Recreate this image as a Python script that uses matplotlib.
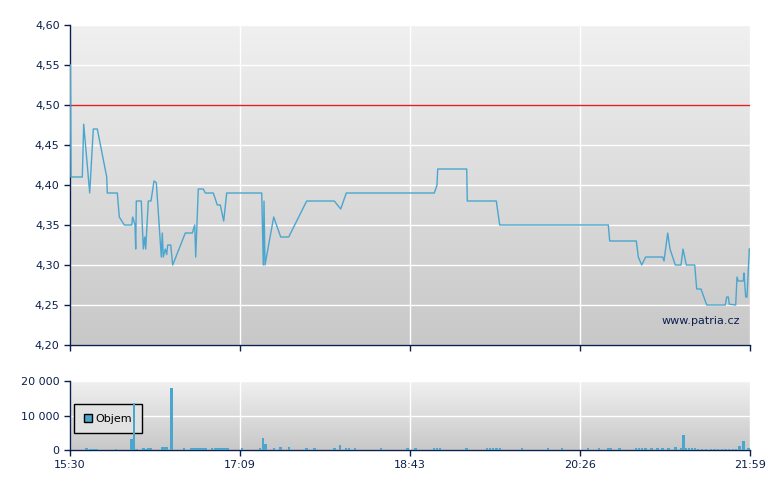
import numpy as np
import matplotlib
matplotlib.use("Agg")
import matplotlib.pyplot as plt

# price line: position along the axis (0..680) and price
price_x = [0.3, 1, 12.3, 13.7, 19.7, 23.3, 27.3, 36.7, 37.3, 47.3, 49.3, 54.3, 61.7, 62.7,
           65, 65.7, 66.3, 68.3, 69.3, 71.3, 73.3, 74.7, 75.7, 78.3, 81, 84, 86.3, 91.3,
           92.3, 93.3, 95.3, 96.7, 97.7, 100.7, 102.7, 115.3, 122.3, 124.7, 125.7, 128.3,
           133.3, 135.3, 143.3, 147.3, 150.3, 153.7, 156.7, 191.7, 193.3, 194, 195, 203.7,
           210.7, 218.7, 236.7, 264.3, 270.7, 276.3, 364.3, 367, 367.7, 396.7, 397.3, 426.3,
           429.7, 538.3, 539.7, 566.3, 568.3, 571.7, 575.7, 592.7, 594, 597.7, 600, 605.3,
           611, 613, 616.3, 624.7, 626.7, 631, 636.7, 655.3, 656.7, 658.3, 659.3, 665.7,
           667, 668.3, 673.3, 674, 675.7, 677, 679.3]
price_y = [4.55, 4.41, 4.41, 4.476, 4.39, 4.47, 4.47, 4.41, 4.39, 4.39, 4.36, 4.35, 4.35, 4.36,
           4.35, 4.32, 4.38, 4.38, 4.38, 4.38, 4.32, 4.335, 4.32, 4.38, 4.38, 4.405, 4.403, 4.31,
           4.34, 4.31, 4.32, 4.313, 4.325, 4.325, 4.30, 4.34, 4.34, 4.35, 4.31, 4.395,
           4.395, 4.39, 4.39, 4.375, 4.375, 4.355, 4.39, 4.39, 4.30, 4.38, 4.30, 4.36,
           4.335, 4.335, 4.38, 4.38, 4.37, 4.39, 4.39, 4.40, 4.42, 4.42, 4.38, 4.38,
           4.35, 4.35, 4.33, 4.33, 4.31, 4.30, 4.31, 4.31, 4.305, 4.34, 4.32, 4.30,
           4.30, 4.32, 4.30, 4.30, 4.27, 4.27, 4.25, 4.25, 4.26, 4.26, 4.251, 4.25,
           4.285, 4.28, 4.28, 4.29, 4.26, 4.26, 4.32]

prev_close = 4.50

# volume bars
vol_x = [16.3, 20.5, 23.5, 26.5, 46, 61.3, 64, 66.5, 73.7, 76, 78.5, 81, 92, 94.5, 97,
         101.7, 114, 121.5, 124.5, 127.5, 130, 132.5, 135.5, 142, 145.5, 148.5, 151.5,
         154.5, 157.5, 172, 190, 193, 195.5, 204, 210.5, 219, 236.3, 244.3, 264.3, 270,
         276, 279, 285, 311, 337.3, 345.3, 364, 367, 370, 396.7, 417, 420, 423, 426.5,
         430, 452, 478, 492, 518, 529, 538, 540.5, 549.3, 566, 569, 572, 575.3, 581.3,
         587.3, 592.3, 598.7, 605.3, 611, 613.3, 616, 619, 622, 625, 628, 632, 636, 641,
         644.5, 648, 652, 655.5, 659, 663, 666, 669.3, 673.3, 678.7]
vol_y = [580, 400, 400, 400, 400, 3170, 13650, 300, 580, 400, 580, 580, 870, 870, 870,
         17900, 580, 580, 580, 580, 580, 580, 580, 580, 580, 580, 580,
         580, 580, 580, 580, 3460, 1730, 580, 870, 870, 580, 580, 580, 1440,
         580, 580, 580, 580, 580, 580, 580, 580, 580, 580, 580, 580, 580, 580,
         580, 580, 580, 580, 580, 580, 580, 580, 580, 580, 580, 580, 580, 580,
         580, 580, 580, 870, 480, 4330, 580, 580, 580, 580, 300, 300, 300, 300,
         300, 300, 300, 300, 300, 300, 400, 1150, 2700, 480]

tick_pos = [0, 170, 340, 510, 680]
tick_labels = ["15:30", "17:09", "18:43", "20:26", "21:59"]

navy = "#0b1f4d"
line_col = "#4aa6cf"

plt.rcParams['font.family'] = ['DejaVu Sans']

fig = plt.figure(figsize=(7.8, 4.9), dpi=100)
ax = fig.add_axes([70/780, 1-345/490, 680/780, 320/490])
axv = fig.add_axes([70/780, 1-450/490, 680/780, 69/490])

grad = np.linspace(0, 1, 256).reshape(-1, 1)
for a in (ax, axv):
    a.imshow(grad, extent=[0, 1, 0, 1], transform=a.transAxes, aspect='auto',
             cmap=matplotlib.colors.LinearSegmentedColormap.from_list('bg', ['#f0f0f0', '#c8c8c8']),
             zorder=0, interpolation='bilinear')
    a.set_xlim(0, 680)
    a.set_xticks(tick_pos)
    a.grid(True, color='white', linewidth=1, zorder=1)
    a.set_axisbelow(True)
    for s in ('top', 'right'):
        a.spines[s].set_visible(False)
    for s in ('left', 'bottom'):
        a.spines[s].set_color(navy)
        a.spines[s].set_linewidth(1)
    a.tick_params(colors=navy, labelcolor=navy, labelsize=8, length=4, width=1)

ax.plot(price_x, price_y, color=line_col, linewidth=1, zorder=3)
ax.axhline(prev_close, color='#e02020', linewidth=1, zorder=2)
ax.set_ylim(4.20, 4.60)
yt = np.arange(4.20, 4.601, 0.05)
ax.set_yticks(yt)
ax.set_yticklabels([f"{v:.2f}".replace('.', ',') for v in yt])
ax.set_xticklabels([])
ax.text(0.985, 0.06, "www.patria.cz", transform=ax.transAxes, ha='right', va='bottom',
        color=navy, fontsize=8, zorder=4)

axv.bar(vol_x, vol_y, width=2.6, color=line_col, zorder=3, label='Objem')
axv.set_ylim(0, 20000)
axv.set_yticks([0, 10000, 20000])
axv.set_yticklabels(["0", "10 000", "20 000"])
axv.set_xticklabels(tick_labels)
leg = axv.legend(loc='lower left', bbox_to_anchor=(0.006, 0.24), fontsize=8, frameon=True,
                 fancybox=False, edgecolor='black', facecolor='#e2e2e2', framealpha=1,
                 handlelength=0.8, handleheight=0.8, handletextpad=0.3, borderpad=0.85,
                 borderaxespad=0)
leg.get_frame().set_linewidth(1)
for h in leg.legend_handles:
    h.set_edgecolor('black')
    h.set_linewidth(1)
leg.set_zorder(2)

fig.savefig("out.png", dpi=100, facecolor='white')
